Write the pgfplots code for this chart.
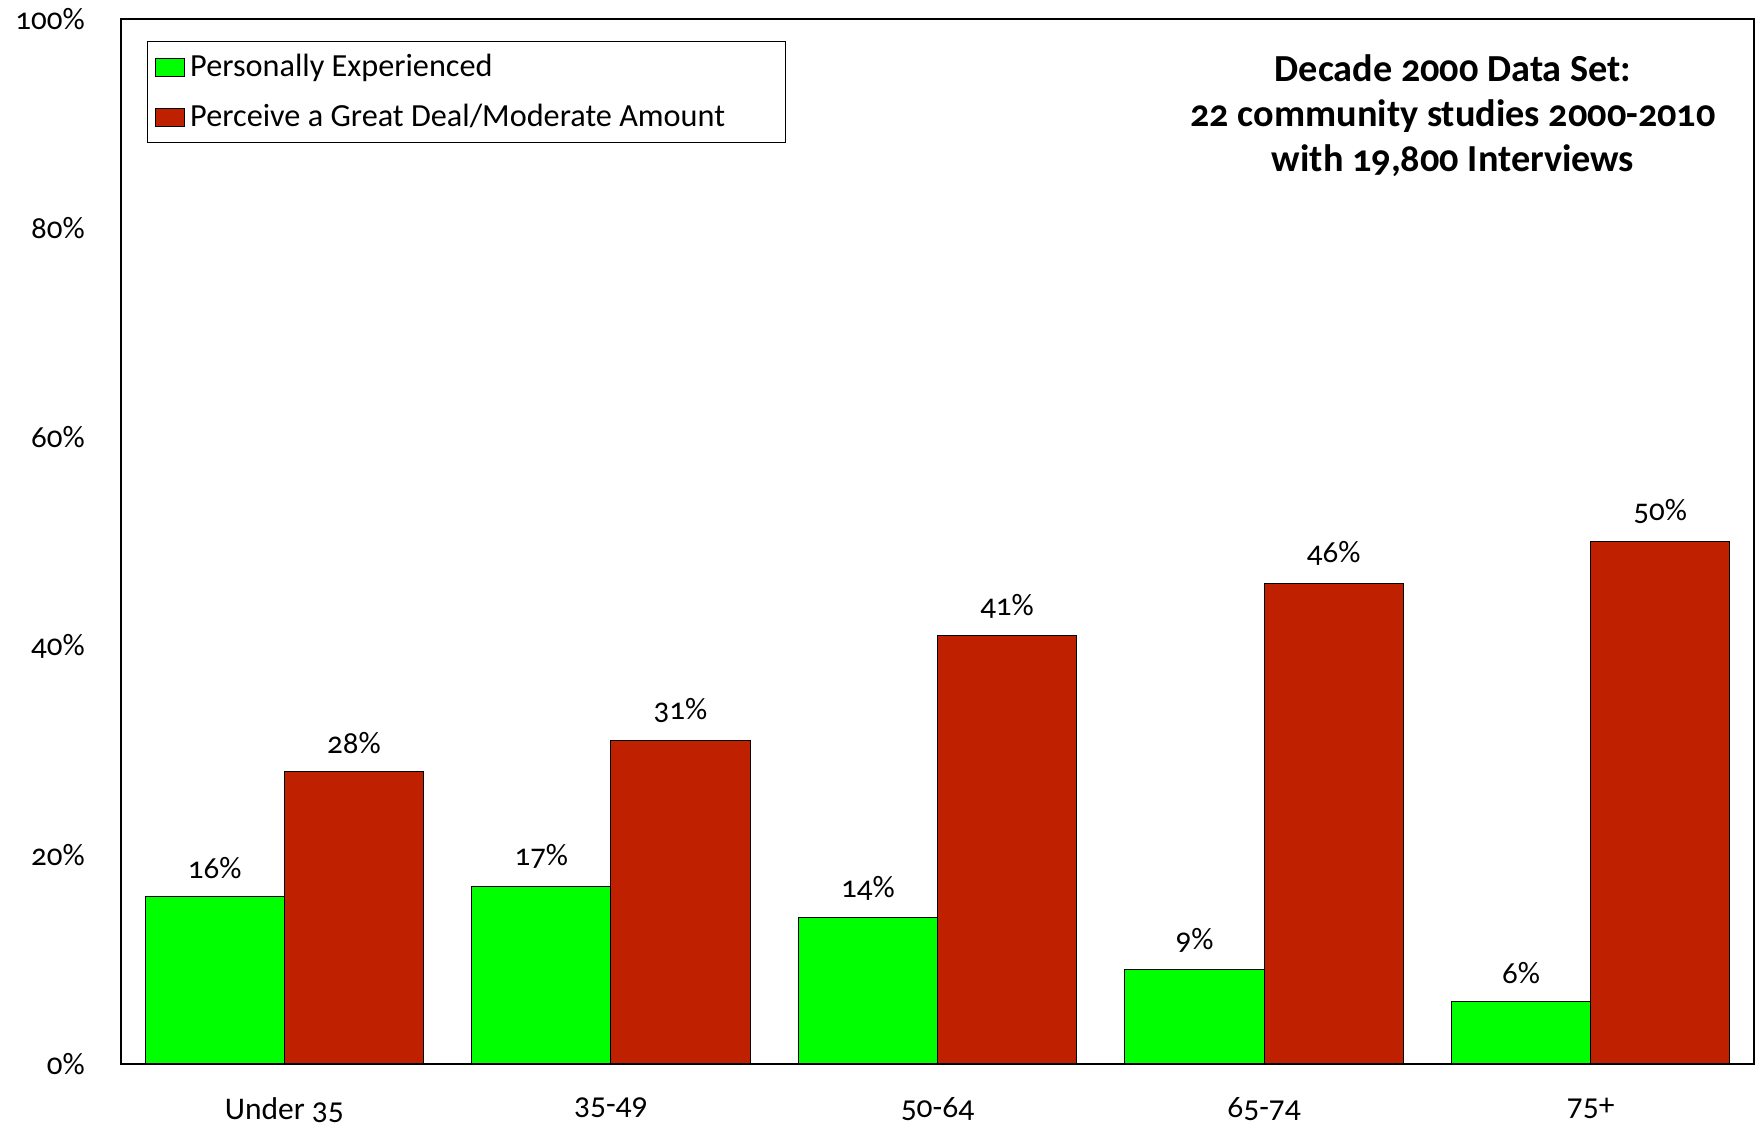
\documentclass[border=0pt]{standalone}
\usepackage{fontspec}
\setmainfont[Numbers=OldStyle]{Carlito}
\usepackage{pgfplots}
\pgfplotsset{compat=1.18}
\definecolor{pgreen}{RGB}{0,255,0}
\definecolor{pred}{RGB}{190,32,0}
\begin{document}
\begin{tikzpicture}
\path[use as bounding box] (-48.4pt,-26pt) rectangle (655.2pt,425.6pt);
\begin{axis}[
  at={(0,0)}, anchor=south west,
  scale only axis, width=653.2pt, height=418pt,
  ybar=0pt, bar width=0.426,
  xmin=-0.5, xmax=4.5, ymin=0, ymax=100,
  xtick={0,1,2,3,4},
  xticklabels={Under 35,35-49,50-64,65-74,75+},
  ytick={0,20,40,60,80,100},
  major tick length=0pt,
  /pgf/number format/assume math mode=true,
  yticklabel={\pgfmathprintnumber{\tick}\%},
  yticklabel style={xshift=-11pt, font=\fontsize{12.4}{14}\selectfont},
  xticklabel style={yshift=-10pt, font=\fontsize{12.6}{14}\selectfont},
  axis line style={black, line width=0.6pt},
  nodes near coords={\pgfmathprintnumber{\pgfplotspointmeta}\%},
  nodes near coords style={font=\fontsize{12.4}{14}\selectfont, anchor=south, yshift=3.5pt},
  legend image code/.code={\draw[#1] (0pt,-3.6pt) rectangle (11.7pt,3.6pt);},
  legend style={at={(0,1)}, anchor=north west, xshift=10.4pt, yshift=-9pt,
    font=\fontsize{12.9}{15}\selectfont, draw=black, line width=0.4pt,
    row sep=5.4pt, inner xsep=3pt, inner ysep=3pt},
  legend cell align=left,
]
\addplot[fill=pgreen, draw=black, line width=0.4pt] coordinates {(0,16) (1,17) (2,14) (3,9) (4,6)};
\addlegendentry{Personally Experienced}
\addplot[fill=pred, draw=black, line width=0.4pt] coordinates {(0,28) (1,31) (2,41) (3,46) (4,50)};
\addlegendentry{\makebox[233pt][l]{Perceive a Great Deal/Moderate Amount}}
\node[align=center, font=\fontsize{15.3}{18}\selectfont\bfseries] at (rel axis cs:0.8157,0.9077)
  {Decade 2000 Data Set:\\22 community studies 2000-2010\\with 19,800 Interviews};
\end{axis}
\end{tikzpicture}
\end{document}
